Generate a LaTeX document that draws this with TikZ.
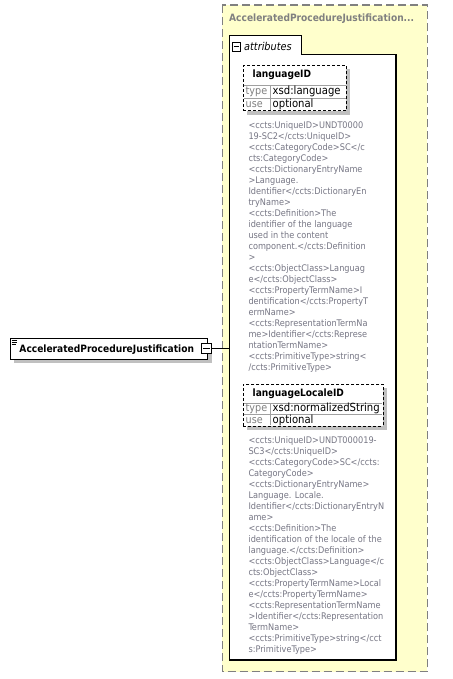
\documentclass[tikz,border=0pt]{standalone}
\usepackage{fontspec}
\setmainfont{DejaVu Sans Condensed}
\usetikzlibrary{shadows}
\definecolor{ylw}{RGB}{255,255,204}
\definecolor{dashgray}{RGB}{128,128,128}
\definecolor{annogray}{RGB}{118,118,132}
\definecolor{shadowgray}{RGB}{192,192,192}
\definecolor{sepgray}{RGB}{160,160,160}
\begin{document}
\begin{tikzpicture}[x=1pt,y=-1pt,
  outerbox/.style={fill=ylw,draw=dashgray,line width=1.3pt,dash pattern=on 8pt off 4pt},
  attrframe/.style={fill=white,draw=black,line width=1.1pt},
  elembox/.style={draw=black,fill=white,line width=0.9pt,inner sep=0pt,anchor=north west,
    drop shadow={shadow xshift=4.5pt,shadow yshift=-4.5pt,fill=shadowgray,opacity=1}},
  attbox/.style={draw=black,fill=white,line width=0.9pt,dash pattern=on 3pt off 2pt,inner sep=0pt,anchor=north west,
    drop shadow={shadow xshift=4pt,shadow yshift=-4pt,fill=shadowgray,opacity=1}},
  minusbox/.style={draw=black,fill=white,line width=0.8pt,inner sep=0pt,minimum size=#1},
  sepline/.style={draw=sepgray,line width=0.8pt},
  titletext/.style={anchor=base west,inner sep=0pt,text=dashgray,font=\fontsize{10.1}{12}\selectfont\bfseries},
  boldtext/.style={anchor=base west,inner sep=0pt,font=\fontsize{10.1}{12}\selectfont\bfseries},
  keytext/.style={anchor=base west,inner sep=0pt,text=dashgray,font=\fontsize{10.7}{12}\selectfont},
  valtext/.style={anchor=base west,inner sep=0pt,font=\fontsize{11.2}{12}\selectfont},
  annotext/.style={anchor=base west,inner sep=0pt,text=annogray,font=\fontsize{9.1}{11}\selectfont},
  conn/.style={draw=black,line width=0.9pt}
]
\useasboundingbox (0,0) rectangle (452,679);

% outer yellow group
\path[outerbox] (222.3,5) rectangle (427.3,671.7);
\node[titletext] (title) at (229,22) {AcceleratedProcedureJustification...};

% attributes frame with tab
\path[attrframe] (229.3,660) -- (229.3,35.7) -- (301.7,35.7) -- (301.7,54.3) -- (396,54.3) -- (396,660) -- cycle;
\node[inner sep=0pt,minimum width=166.7pt,minimum height=305.7pt,anchor=north west] (attrbox) at (229.3,54.3) {};
\node[minusbox=8.5pt] (tabminus) at (236.5,46.7) {};
\draw[line width=0.8pt] ([xshift=1.8pt]tabminus.west) -- ([xshift=-1.8pt]tabminus.east);
\node[anchor=base west,inner sep=0pt,font=\fontsize{10.8}{12}\selectfont\itshape] (attrlabel) at (244,50.5) {attributes};

% languageID
\node[attbox,minimum width=103pt,minimum height=45.5pt] (att1) at (243,65) {};
\draw[sepline] (243.5,85.5) -- (345.5,85.5);
\draw[sepline] (243.5,98) -- (345.5,98);
\draw[sepline] (270,85.5) -- (270,110);
\node[boldtext] (att1name) at (252.5,78) {languageID};
\node[keytext] (att1tk) at (245.5,95) {type};
\node[valtext] (att1tv) at (272.5,95) {xsd:language};
\node[keytext] (att1uk) at (245.5,107.5) {use};
\node[valtext] (att1uv) at (272.5,107.5) {optional};

\foreach \t [count=\i] in {<ccts:UniqueID>UNDT0000,19-SC2</ccts:UniqueID>,<ccts:CategoryCode>SC</c,cts:CategoryCode>,<ccts:DictionaryEntryName,>Language.,Identifier</ccts:DictionaryEn,tryName>,<ccts:Definition>The,identifier of the language,used in the content,component.</ccts:Definition,>,<ccts:ObjectClass>Languag,e</ccts:ObjectClass>,<ccts:PropertyTermName>I,dentification</ccts:PropertyT,ermName>,<ccts:RepresentationTermNa,me>Identifier</ccts:Represe,ntationTermName>,<ccts:PrimitiveType>string<,/ccts:PrimitiveType>}
  \node[annotext] (annoA-\i) at (248.3,{128.3+11*(\i-1)}) {\t};

% languageLocaleID
\node[attbox,minimum width=139.5pt,minimum height=42pt] (att2) at (243,383.5) {};
\draw[sepline] (243.5,403) -- (382,403);
\draw[sepline] (243.5,414.5) -- (382,414.5);
\draw[sepline] (270,403) -- (270,425);
\node[boldtext] (att2name) at (252.5,396) {languageLocaleID};
\node[keytext] (att2tk) at (245.5,411.5) {type};
\node[valtext] (att2tv) at (272.5,411.5) {xsd:normalizedString};
\node[keytext] (att2uk) at (245.5,423) {use};
\node[valtext] (att2uv) at (272.5,423) {optional};

\foreach \t [count=\i] in {<ccts:UniqueID>UNDT000019-,SC3</ccts:UniqueID>,<ccts:CategoryCode>SC</ccts:,CategoryCode>,<ccts:DictionaryEntryName>,Language. Locale.,Identifier</ccts:DictionaryEntryN,ame>,<ccts:Definition>The,identification of the locale of the,language.</ccts:Definition>,<ccts:ObjectClass>Language</c,cts:ObjectClass>,<ccts:PropertyTermName>Local,e</ccts:PropertyTermName>,<ccts:RepresentationTermName,>Identifier</ccts:Representation,TermName>,<ccts:PrimitiveType>string</cct,s:PrimitiveType>}
  \node[annotext] (annoB-\i) at (248.3,{443+11*(\i-1)}) {\t};

% element
\node[elembox,minimum width=197.5pt,minimum height=20.5pt] (elem) at (9.5,338) {};
\draw[line width=0.7pt] (11.7,340.3) -- (17.3,340.3) (11.7,342.1) -- (17.3,342.1) (11.7,343.9) -- (15.8,343.9);
\node[boldtext] (elemlabel) at (19.3,352.5) {AcceleratedProcedureJustification};
\node[minusbox=10pt] (elemminus) at (206.2,348.6) {};
\draw[line width=0.8pt] ([xshift=2pt]elemminus.west) -- ([xshift=-2pt]elemminus.east);

% connector
\draw[conn] (elemminus.east) -- (attrbox.west |- elemminus.east);
\end{tikzpicture}
\end{document}
